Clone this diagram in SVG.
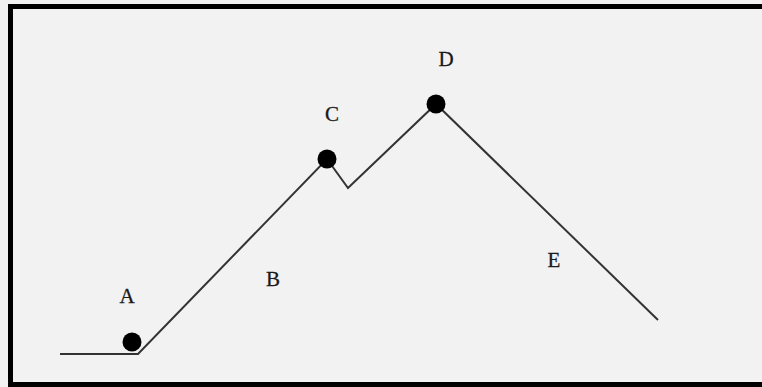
<svg xmlns="http://www.w3.org/2000/svg" width="762" height="387" viewBox="0 0 762 387">
<style>
.lbl{font-family:"Liberation Serif","Times New Roman",serif;font-size:21px;fill:#1a1a1a;stroke:#1a1a1a;stroke-width:0.3;text-anchor:middle}
.ln{fill:none;stroke:#333;stroke-width:2;stroke-linejoin:miter}
.dot{fill:#000}
</style>
<rect x="0" y="0" width="762" height="387" fill="#f2f2f2"/>
<g id="frame" fill="#000">
<rect x="8" y="4" width="754" height="5"/>
<rect x="8" y="4" width="5" height="383"/>
<rect x="8" y="382" width="754" height="5"/>
</g>
<g id="connectors">
<polyline class="ln" points="60,354 138,354 327,159 348,188 436,104 658,320"/>
</g>
<g id="A"><circle class="dot" cx="132" cy="342" r="9.5"/><text class="lbl" x="127" y="303">A</text></g>
<g id="B"><text class="lbl" x="273" y="286">B</text></g>
<g id="C"><circle class="dot" cx="327" cy="159" r="9.5"/><text class="lbl" x="332" y="121">C</text></g>
<g id="D"><circle class="dot" cx="436" cy="104" r="9.5"/><text class="lbl" x="446" y="66">D</text></g>
<g id="E"><text class="lbl" x="554" y="267">E</text></g>
</svg>
